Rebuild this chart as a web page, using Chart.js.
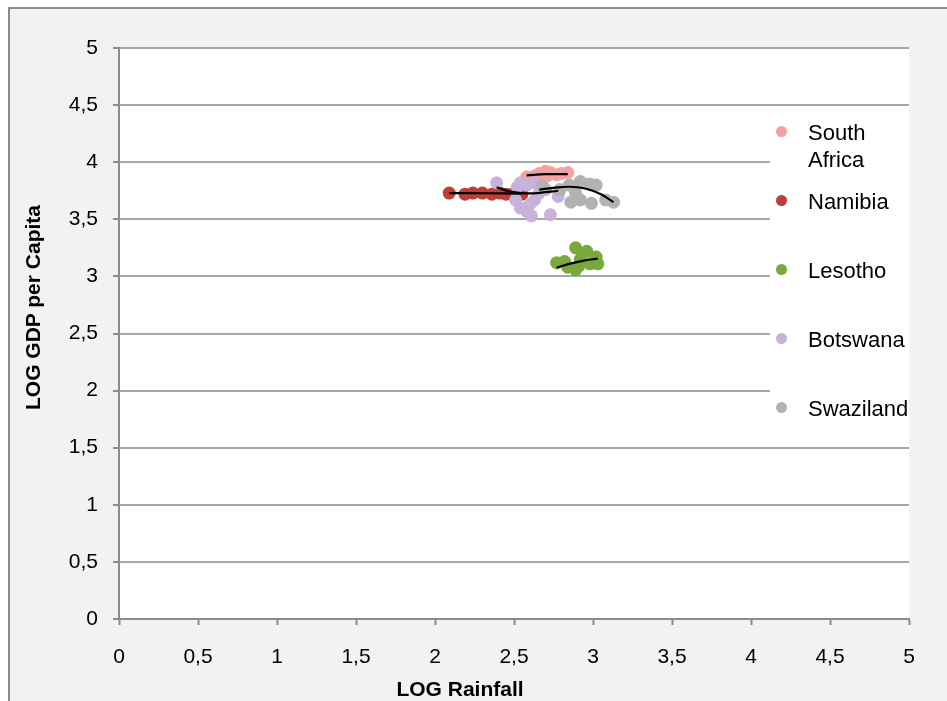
<!DOCTYPE html>
<html>
<head>
<meta charset="utf-8">
<script src="https://cdn.jsdelivr.net/npm/chart.js@4/dist/chart.umd.min.js"></script>
<style>
  html, body { margin:0; padding:0; background:#ffffff; width:947px; height:701px; overflow:hidden; font-family:"Liberation Sans", Arial, sans-serif; }
  #frame { position:absolute; left:8px; top:7px; width:1000px; height:800px; background:#f2f2f2; border-left:2px solid #8c8c8c; border-top:2px solid #8c8c8c; }
  #c { position:absolute; left:0; top:0; }
  #legend { position:absolute; left:770px; top:115px; width:139px; height:315px; background:#ffffff; }
  .li { position:absolute; left:0; width:139px; }
  .dot { position:absolute; left:6px; width:11px; height:11px; border-radius:50%; }
  .lt { position:absolute; left:38px; width:103px; font-size:22px; line-height:27px; color:#000; }
  .xt { position:absolute; left:360px; width:200px; top:677px; text-align:center; font-weight:bold; font-size:21px; color:#000; }
  .yt { position:absolute; left:-67px; top:298px; width:200px; text-align:center; font-weight:bold; font-size:21px; color:#000; transform:rotate(-90deg); white-space:nowrap; }
</style>
</head>
<body>
<div id="frame"></div>
<canvas id="c" width="947" height="701"></canvas>
<div id="legend"></div>
<div class="xt" id="xtitle"></div>
<div class="yt" id="ytitle"></div>
<script>
// ---- data ----
const seriesNames = ["South Africa", "Namibia", "Lesotho", "Botswana", "Swaziland"];
const seriesColors = ["#f2a3a1", "#be3f3a", "#79a83b", "#c7b2d9", "#b2b2b2"];

const southAfricaX = [2.58, 2.63, 2.66, 2.70, 2.73, 2.77, 2.80, 2.84, 2.65, 2.71];
const southAfricaY = [3.87, 3.88, 3.90, 3.92, 3.91, 3.89, 3.90, 3.91, 3.86, 3.88];

const namibiaX = [2.09, 2.19, 2.24, 2.30, 2.36, 2.41, 2.45, 2.50, 2.55];
const namibiaY = [3.73, 3.72, 3.73, 3.73, 3.72, 3.73, 3.72, 3.73, 3.72];

const lesothoX = [2.77, 2.82, 2.84, 2.89, 2.89, 2.92, 2.96, 2.98, 3.02, 3.03, 2.91];
const lesothoY = [3.12, 3.13, 3.08, 3.06, 3.25, 3.15, 3.22, 3.11, 3.17, 3.11, 3.09];

const botswanaX = [2.39, 2.52, 2.54, 2.58, 2.63, 2.51, 2.54, 2.58, 2.61, 2.63, 2.60, 2.73, 2.78, 2.70, 2.66];
const botswanaY = [3.82, 3.78, 3.82, 3.80, 3.82, 3.67, 3.60, 3.57, 3.53, 3.67, 3.63, 3.54, 3.70, 3.76, 3.73];

const swazilandX = [2.68, 2.79, 2.85, 2.92, 2.98, 3.02, 2.86, 2.92, 2.99, 3.08, 3.13, 2.89];
const swazilandY = [3.79, 3.76, 3.80, 3.83, 3.81, 3.80, 3.65, 3.67, 3.64, 3.67, 3.65, 3.73];

// trendlines
const trendSouthAfricaX = [2.58, 2.70, 2.84];
const trendSouthAfricaY = [3.885, 3.895, 3.895];
const trendNamibiaX = [2.09, 2.30, 2.55];
const trendNamibiaY = [3.73, 3.728, 3.725];
const trendLesothoX = [2.77, 2.85, 2.95, 3.03];
const trendLesothoY = [3.075, 3.11, 3.14, 3.155];
const trendBotswanaX = [2.39, 2.47, 2.55, 2.65, 2.78];
const trendBotswanaY = [3.78, 3.745, 3.73, 3.73, 3.75];
const trendSwazilandX = [2.66, 2.75, 2.85, 2.95, 3.05, 3.13];
const trendSwazilandY = [3.76, 3.775, 3.785, 3.77, 3.72, 3.65];

const xTickValues = [0, 0.5, 1, 1.5, 2, 2.5, 3, 3.5, 4, 4.5, 5];
const xTitle = "LOG Rainfall";
const yTitle = "LOG GDP per Capita";

// ---- build ----
const pts = (xs, ys) => xs.map((x, i) => ({x: x, y: ys[i]}));
const comma = v => String(v).replace('.', ',');

const scatterSets = [
  [southAfricaX, southAfricaY],
  [namibiaX, namibiaY],
  [lesothoX, lesothoY],
  [botswanaX, botswanaY],
  [swazilandX, swazilandY]
];
const trendSets = [
  [trendSouthAfricaX, trendSouthAfricaY],
  [trendNamibiaX, trendNamibiaY],
  [trendLesothoX, trendLesothoY],
  [trendBotswanaX, trendBotswanaY],
  [trendSwazilandX, trendSwazilandY]
];

const datasets = [];
scatterSets.forEach((s, i) => {
  datasets.push({
    label: seriesNames[i],
    data: pts(s[0], s[1]),
    backgroundColor: seriesColors[i],
    borderColor: seriesColors[i],
    borderWidth: 0,
    pointRadius: 6.5,
    pointHoverRadius: 6.5,
    order: 10 - i
  });
});
trendSets.forEach((s, i) => {
  datasets.push({
    label: seriesNames[i] + " trend",
    data: pts(s[0], s[1]),
    showLine: true,
    borderColor: "#000000",
    borderWidth: 2.2,
    pointRadius: 0,
    tension: 0.4,
    fill: false,
    order: 0
  });
});

const plotBg = {
  id: 'plotBg',
  beforeDraw(chart) {
    const a = chart.chartArea, ctx = chart.ctx;
    ctx.save();
    ctx.fillStyle = '#ffffff';
    ctx.fillRect(a.left, a.top, a.right - a.left, a.bottom - a.top);
    ctx.restore();
  }
};

Chart.defaults.font.family = '"Liberation Sans", Arial, sans-serif';
Chart.defaults.color = '#000000';

new Chart(document.getElementById('c'), {
  type: 'scatter',
  data: { datasets: datasets },
  plugins: [plotBg],
  options: {
    responsive: false,
    animation: false,
    events: [],
    layout: { padding: { left: 0, right: 38, top: 48, bottom: 0 } },
    plugins: { legend: { display: false }, tooltip: { enabled: false } },
    scales: {
      x: {
        type: 'linear', min: 0, max: 5,
        afterBuildTicks: s => { s.ticks = xTickValues.map(v => ({value: v})); },
        afterFit: s => { s.height = 82; },
        ticks: { font: { size: 21 }, padding: 20, callback: v => comma(v), maxRotation: 0, autoSkip: false },
        grid: { drawOnChartArea: false, drawTicks: true, tickLength: 6, tickColor: '#8c8c8c', tickWidth: 2 },
        border: { color: '#8c8c8c', width: 2 }
      },
      y: {
        type: 'linear', min: 0, max: 5,
        ticks: { stepSize: 0.5, font: { size: 21 }, padding: 15, callback: v => comma(v) },
        afterFit: s => { s.width = 119; },
        grid: { color: '#a6a6a6', lineWidth: 2, drawTicks: true, tickLength: 6, tickColor: '#8c8c8c', tickWidth: 2 },
        border: { color: '#8c8c8c', width: 2 }
      }
    }
  }
});

// legend
const lg = document.getElementById('legend');
seriesNames.forEach((name, i) => {
  const item = document.createElement('div');
  item.className = 'li';
  item.style.top = (16 + i * 69) + 'px';
  const d = document.createElement('div');
  d.className = 'dot';
  d.style.background = seriesColors[i];
  d.style.top = '-5px';
  const t = document.createElement('div');
  t.className = 'lt';
  t.style.top = '-12px';
  t.textContent = name;
  item.appendChild(d);
  item.appendChild(t);
  lg.appendChild(item);
});
document.getElementById('xtitle').textContent = xTitle;
document.getElementById('ytitle').textContent = yTitle;
</script>
</body>
</html>
